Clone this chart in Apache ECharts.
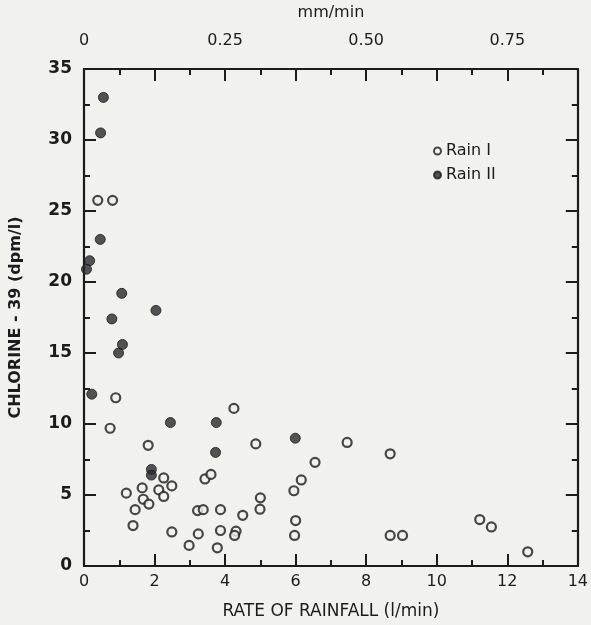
<!DOCTYPE html>
<html>
<head>
<meta charset="utf-8">
<script src="https://cdn.jsdelivr.net/npm/echarts@6/dist/echarts.min.js"></script>
<style>
html, body { margin: 0; padding: 0; background: #f1f1ee; }
#chart { width: 591px; height: 625px; }
</style>
</head>
<body>
<div id="chart"></div>
<script>
// rain I (open circles): rate of rainfall (l/min) and Cl-39 (dpm/l)
var rain1Rate = [0.39, 0.81, 0.90, 0.74, 4.25, 1.82, 4.87, 2.26, 2.49, 3.43, 3.60, 1.65, 2.12, 1.20, 2.26,
    1.68, 1.84, 5.00, 1.45, 3.22, 3.38, 3.87, 4.50, 4.99, 1.39, 2.49, 3.24, 3.87, 4.31, 4.27, 2.98, 3.78,
    7.46, 8.68, 6.55, 6.16, 5.95, 6.00, 5.97, 8.68, 9.03, 11.22, 11.55, 12.58];
var rain1Cl = [25.75, 25.75, 11.85, 9.7, 11.1, 8.5, 8.6, 6.2, 5.64, 6.13, 6.45, 5.5, 5.36, 5.13, 4.9,
    4.7, 4.36, 4.8, 3.97, 3.9, 3.97, 3.97, 3.57, 4.0, 2.85, 2.4, 2.26, 2.5, 2.45, 2.15, 1.45, 1.28,
    8.7, 7.9, 7.3, 6.06, 5.3, 3.2, 2.15, 2.15, 2.15, 3.27, 2.75, 1.0];

// rain II (filled circles)
var rain2Rate = [0.55, 0.47, 0.46, 0.16, 0.07, 1.07, 2.04, 0.79, 1.09, 0.98, 0.22, 2.45, 3.75, 3.73, 1.91, 1.91, 5.99];
var rain2Cl = [33.0, 30.5, 23.0, 21.5, 20.9, 19.2, 18.0, 17.4, 15.6, 15.0, 12.1, 10.1, 10.1, 8.0, 6.8, 6.4, 9.0];

var topTickLabels = ['0', '0.25', '0.50', '0.75'];

function zip(xs, ys) {
    var out = [];
    for (var i = 0; i < xs.length; i++) out.push([xs[i], ys[i]]);
    return out;
}

var ink = '#1c1c1c';
var bg = '#f1f1ee';
var font = 'DejaVu Sans';

var myChart = echarts.init(document.getElementById('chart'));
var tickStyle = { inside: true, length: 12, lineStyle: { color: ink, width: 2 } };
var minorStyle = { show: true, splitNumber: 2, length: 6, lineStyle: { color: ink, width: 2 } };
var lineStyle = { show: true, onZero: false, lineStyle: { color: ink, width: 2.2 } };

var option = {
    backgroundColor: bg,
    animation: false,
    grid: { left: 81, top: 66, width: 498, height: 504 },
    legend: {
        orient: 'vertical',
        left: 428,
        top: 138,
        itemGap: 8,
        itemWidth: 7,
        itemHeight: 7,
        textStyle: { fontFamily: font, fontSize: 16, color: ink },
        data: ['Rain I', 'Rain II']
    },
    xAxis: [{
        type: 'value',
        position: 'bottom',
        min: 0, max: 14, interval: 2,
        name: 'RATE OF RAINFALL (l/min)',
        nameLocation: 'middle',
        nameGap: 37,
        nameTextStyle: { fontFamily: font, fontSize: 17, color: ink },
        axisLine: lineStyle,
        axisTick: tickStyle,
        minorTick: minorStyle,
        splitLine: { show: false },
        axisLabel: { margin: 8, fontFamily: font, fontSize: 16, color: ink }
    }, {
        type: 'value',
        position: 'top',
        min: 0, max: 0.875, interval: 0.125,
        name: 'mm/min',
        nameLocation: 'middle',
        nameGap: 48,
        nameTextStyle: { fontFamily: font, fontSize: 16, color: ink },
        axisLine: lineStyle,
        axisTick: tickStyle,
        minorTick: minorStyle,
        splitLine: { show: false },
        axisLabel: {
            margin: 20, fontFamily: font, fontSize: 16, color: ink,
            formatter: function (v) {
                var k = Math.round(v / 0.25 * 1000) / 1000;
                if (k === Math.round(k) && k < topTickLabels.length) return topTickLabels[k];
                return '';
            }
        }
    }],
    yAxis: [{
        type: 'value',
        position: 'left',
        min: 0, max: 35, interval: 5,
        name: 'CHLORINE - 39 (dpm/l)',
        nameLocation: 'middle',
        nameGap: 60,
        nameTextStyle: { fontFamily: font, fontSize: 16, fontWeight: 'bold', color: ink },
        axisLine: lineStyle,
        axisTick: tickStyle,
        minorTick: minorStyle,
        splitLine: { show: false },
        axisLabel: { margin: 12, fontFamily: font, fontSize: 17, fontWeight: 'bold', color: ink }
    }, {
        type: 'value',
        position: 'right',
        min: 0, max: 35, interval: 5,
        axisLine: lineStyle,
        axisTick: tickStyle,
        minorTick: minorStyle,
        splitLine: { show: false },
        axisLabel: { show: false }
    }],
    series: [{
        name: 'Rain I',
        type: 'scatter',
        xAxisIndex: 0, yAxisIndex: 0,
        symbol: 'circle',
        symbolSize: 9,
        itemStyle: { color: bg, borderColor: ink, borderWidth: 2.2 },
        data: zip(rain1Rate, rain1Cl)
    }, {
        name: 'Rain II',
        type: 'scatter',
        xAxisIndex: 0, yAxisIndex: 0,
        symbol: 'circle',
        symbolSize: 10,
        itemStyle: { color: '#2a2a2a', borderColor: ink, borderWidth: 1 },
        data: zip(rain2Rate, rain2Cl)
    }]
};
myChart.setOption(option);
</script>
</body>
</html>
